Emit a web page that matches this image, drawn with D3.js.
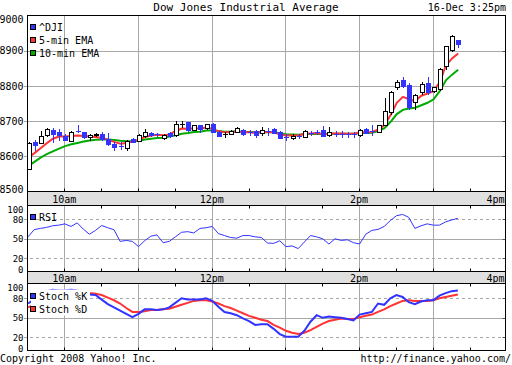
<!DOCTYPE html>
<html><head><meta charset="utf-8">
<script src="https://cdn.jsdelivr.net/npm/d3@7"></script>
<style>
body{margin:0;background:#fff}
svg{display:block}
text{font-family:"DejaVu Sans Mono",monospace;font-size:10px;fill:#000}
</style>
</head><body>
<svg id="c" width="512" height="365"></svg>
<script>
// ---------- DATA ----------
const titleText = "Dow Jones Industrial Average";
const stampText = "16-Dec 3:25pm";
const footLeft = "Copyright 2008 Yahoo! Inc.";
const footRight = "http://finance.yahoo.com/";
const legendMain = ["^DJI", "5-min EMA", "10-min EMA"];
const legendRsi = ["RSI"];
const legendStoch = ["Stoch %K", "Stoch %D"];

const opens = [8565,8640,8638,8661,8674,8668,8659,8644,8671,8668, 8656,8660,8664,8650,8635,8631,8624,8650,8644,8658, 8667,8663,8651,8667,8660,8692,8697,8676,8688,8679, 8692,8670,8662,8664,8670,8676,8670,8672,8666,8671, 8677,8670,8655,8651,8659,8655,8667,8670,8674,8660, 8665,8665,8663,8663,8660,8677,8671,8670,8689,8725, 8797,8816,8802,8755,8782,8808,8786,8791,8856,8901, 8929];
const closes = [8639,8632,8658,8677,8664,8660,8647,8670,8670,8656, 8660,8664,8648,8636,8627,8630,8644,8641,8661,8670, 8660,8662,8660,8658,8691,8693,8675,8688,8677,8691, 8670,8658,8663,8672,8679,8662,8669,8661,8675,8670, 8667,8653,8654,8659,8658,8672,8666,8669,8658,8669, 8664,8664,8662,8662,8675,8667,8670,8688,8729,8783, 8812,8799,8739,8774,8804,8783,8796,8849,8912,8941, 8920];
const highs = [8640,8647,8672,8680,8680,8678,8662,8672,8688,8670, 8662,8667,8670,8665,8640,8641,8647,8652,8663,8678, 8668,8666,8662,8670,8700,8700,8698,8690,8690,8693, 8694,8671,8670,8675,8683,8678,8676,8674,8683,8681, 8680,8672,8664,8662,8664,8676,8672,8674,8686,8683, 8672,8672,8670,8670,8677,8679,8688,8690,8765,8785, 8816,8826,8808,8778,8810,8826,8798,8851,8912,8946, 8930];
const lows = [8563,8619,8637,8659,8641,8646,8645,8643,8669,8652, 8647,8658,8645,8633,8619,8622,8617,8640,8643,8656, 8658,8658,8650,8656,8659,8683,8673,8674,8670,8677, 8668,8657,8655,8662,8668,8660,8660,8655,8661,8661, 8665,8652,8645,8649,8651,8654,8661,8664,8657,8658, 8658,8656,8654,8656,8658,8665,8661,8668,8688,8720, 8790,8797,8733,8733,8777,8777,8784,8789,8849,8899, 8911];
const ema5 = [8597,8609,8623,8637,8650,8656,8656,8658,8659,8658, 8656,8655,8652,8647,8641,8636,8638,8642,8647,8655, 8659,8661,8660,8662,8672,8679,8678,8680,8679,8682, 8678,8671,8668,8669,8671,8668,8668,8666,8669,8669, 8668,8662,8659,8659,8659,8664,8665,8666,8663,8665, 8665,8665,8664,8664,8668,8668,8669,8676,8689,8717, 8752,8769,8762,8757,8772,8778,8785,8810,8858,8878, 8892];
const ema10 = [8572,8584,8596,8606,8614,8622,8629,8634,8638,8642, 8645,8647,8648,8648,8646,8644,8643,8643,8644,8648, 8650,8652,8653,8656,8660,8664,8666,8669,8670,8673, 8673,8672,8670,8670,8671,8669,8669,8668,8668,8668, 8668,8665,8663,8662,8661,8663,8663,8664,8663,8664, 8664,8664,8664,8664,8666,8666,8667,8672,8680,8698, 8720,8732,8736,8738,8745,8752,8762,8785,8816,8832, 8846];
const rsi = [53,64,66,67.5,70,71,73,69,74.5,65, 57,63,70.5,67,64,46,47.5,46,38,47, 54,56,44,46,53,60,61,59,66,67, 69,58,55,52,51,55,55,53,52,43.5, 43,47,38,39,35,45,55,53,50,42, 50,47.5,48.5,44,42,57,63,64.5,69,78, 85.5,87.5,83,66,70,73,71,71,76,79, 81.5];
const stochK = [72,78,86,91,93,92,92,93,92,89, 86,85,78,71,66,61,56,51,56,63, 63,62,63,66,73,80,78,78,78,80, 76,67,59,57,54,49,45,39,40,40, 33,25,21,21,21,30,44,54,50,52, 51,50,48,46,55,57,59,72,70,80, 85,82,74,71,75,77,77,84,88,91, 92];
const stochD = [66,70,76,83,88,90,91,91,91,90, 88,87,85,81,77,72,65,59,59,60, 62,62,63,64,67,70,73,76,77,77, 75,72,68,65,61,57,53,50,47,45, 39,35,30,27,25,27,31,36,41,45, 47,49,48,48,51,53,55,59,63,68, 72,76,77,76,76,76,77,80,82,84, 86];

const sessionStart = [9, 30];
const sessionEnd = [16, 0];
const barMinutes = 5;
const timeLabels = [["10am", 10, 0], ["12pm", 12, 0], ["2pm", 14, 0], ["4pm", 16, 0]];
const priceTicks = [8500, 8600, 8700, 8800, 8900, 9000];
const oscTicks = [0, 20, 50, 80, 100];

// ---------- SETUP ----------
const day = (h, m) => new Date(2008, 11, 16, h, m);
const times = opens.map((_, i) => day(sessionStart[0], sessionStart[1] + barMinutes * i));
const bars = opens.map((o, i) => ({t: times[i], o, c: closes[i], h: highs[i], l: lows[i]}));

const BLUE = "#3333ff", RED = "#ff3333", GREEN = "#00aa00", GRID = "#a8a8a8", BAND = "#e0e0e0";
const L = 27.5, R = 505.5;
const svg = d3.select("#c");
svg.append("rect").attr("width", 512).attr("height", 365).attr("fill", "#fff");

const x = d3.scaleTime().domain([day(...sessionStart), day(...sessionEnd)]).range([27.5, 506.5]);
const yP = d3.scaleLinear().domain([8500, 9000]).range([191.5, 15.5]);
const yR = d3.scaleLinear().domain([0, 100]).range([271.3, 206.3]);
const yS = d3.scaleLinear().domain([0, 100]).range([350.3, 285.3]);
const cx = t => Math.round(x(t) + 1);

const hours = d3.timeHour.range(day(10, 0), day(16, 0));
const halfHours = d3.timeMinute.every(30).range(day(10, 0), day(16, 0));

function panel(top, bottom, y, ticks, dashed, fs) {
  const g = svg.append("g");
  g.selectAll(".vg").data(hours).enter().append("line")
    .attr("x1", d => Math.round(x(d)) + 0.5).attr("x2", d => Math.round(x(d)) + 0.5)
    .attr("y1", top).attr("y2", bottom).attr("stroke", GRID);
  ticks.filter(v => v !== y.domain()[0] && v !== y.domain()[1]).forEach(v => {
    const yy = Math.round(y(v)) + 0.5;
    g.append("line").attr("x1", 24).attr("x2", R).attr("y1", yy).attr("y2", yy)
      .attr("stroke", GRID).attr("stroke-dasharray", dashed && dashed(v) ? "3,3" : null);
    g.append("line").attr("x1", R - 3).attr("x2", R).attr("y1", yy).attr("y2", yy).attr("stroke", "#555");
  });
  g.selectAll(".tb").data(halfHours).enter().append("line")
    .attr("x1", d => Math.round(x(d)) + 0.5).attr("x2", d => Math.round(x(d)) + 0.5)
    .attr("y1", bottom - 3).attr("y2", bottom).attr("stroke", "#000");
  ticks.forEach(v => {
    let cy = y(v);
    cy = Math.max(top + 4.3, Math.min(bottom - 2, cy));
    g.append("text").attr("x", 23.5).attr("y", cy + fs * 0.36).attr("text-anchor", "end")
      .style("font-size", fs + "px").text(String(v));
  });
  return g;
}
function topTicks(top) {
  svg.append("g").selectAll("line").data(halfHours).enter().append("line")
    .attr("x1", d => Math.round(x(d)) + 0.5).attr("x2", d => Math.round(x(d)) + 0.5)
    .attr("y1", top).attr("y2", top + 3).attr("stroke", "#000");
}
function band(top, bottom, base) {
  svg.append("rect").attr("x", L).attr("y", top).attr("width", R - L).attr("height", bottom - top)
    .attr("fill", BAND).attr("stroke", "#000");
  timeLabels.forEach(([lab, h, m], i) => {
    const last = i === timeLabels.length - 1;
    svg.append("text").attr("x", last ? R - 1 : x(day(h, m)))
      .attr("y", base).attr("text-anchor", last ? "end" : "middle").text(lab);
  });
}
function legend(items, colors, x0, y0, step) {
  items.forEach((t, i) => {
    svg.append("rect").attr("x", x0 + 0.5).attr("y", y0 + i * step + 0.5).attr("width", 5).attr("height", 5)
      .attr("fill", colors[i]).attr("stroke", "#000");
    svg.append("text").attr("x", x0 + 9).attr("y", y0 + i * step + 6.5).text(t);
  });
}

// ---------- MAIN PANEL ----------
panel(15.5, 191.5, yP, priceTicks, null, 10);
const lineP = d3.line().x((d, i) => x(times[i]) + 0.8).y(d => yP(d));
svg.append("path").attr("d", lineP(ema10)).attr("fill", "none").attr("stroke", GREEN).attr("stroke-width", 2);
svg.append("path").attr("d", lineP(ema5)).attr("fill", "none").attr("stroke", RED).attr("stroke-width", 2);

const cg = svg.append("g");
bars.forEach(b => {
  const c = cx(b.t);
  const up = b.c > b.o;
  const col = up ? "#000" : BLUE;
  cg.append("line").attr("x1", c + 0.5).attr("x2", c + 0.5)
    .attr("y1", Math.round(yP(b.h))).attr("y2", Math.round(yP(b.l)) + 1).attr("stroke", col);
  if (Math.abs(b.c - b.o) <= 1) {
    const yy = Math.round(yP((b.o + b.c) / 2)) + 0.5;
    cg.append("line").attr("x1", c - 2).attr("x2", c + 3).attr("y1", yy).attr("y2", yy).attr("stroke", col);
  } else {
    const yt = Math.round(yP(Math.max(b.o, b.c))), yb = Math.round(yP(Math.min(b.o, b.c)));
    if (up) {
      cg.append("rect").attr("x", c - 1.5).attr("y", yt + 0.5).attr("width", 4)
        .attr("height", Math.max(1, yb - yt)).attr("fill", "#fff").attr("stroke", "#000");
    } else {
      cg.append("rect").attr("x", c - 2).attr("y", yt).attr("width", 5)
        .attr("height", Math.max(2, yb - yt + 1)).attr("fill", BLUE);
    }
  }
});
svg.append("rect").attr("x", L).attr("y", 15.5).attr("width", R - L).attr("height", 176)
  .attr("fill", "none").attr("stroke", "#000");
legend(legendMain, [BLUE, RED, GREEN], 30, 24, 13);

// ---------- BAND 1 ----------
band(191.5, 205.5, 203.3);

// ---------- RSI PANEL ----------
topTicks(205.5);
panel(205.5, 271.5, yR, oscTicks, v => v === 20 || v === 80, 9);
const lineR = d3.line().x((d, i) => x(times[i]) + 0.5).y(d => yR(d));
svg.append("path").attr("d", lineR(rsi)).attr("fill", "none").attr("stroke", BLUE).attr("stroke-width", 1);
svg.append("rect").attr("x", L).attr("y", 205.5).attr("width", R - L).attr("height", 66)
  .attr("fill", "none").attr("stroke", "#000");
legend(legendRsi, [BLUE], 30, 214, 13);

// ---------- BAND 2 ----------
band(271.5, 283.5, 281.5);

// ---------- STOCH PANEL ----------
topTicks(283.5);
panel(283.5, 350.5, yS, oscTicks, v => v === 20 || v === 80, 9);
const lineS = d3.line().x((d, i) => x(times[i]) + 0.5).y(d => yS(d));
svg.append("path").attr("d", lineS(stochD)).attr("fill", "none").attr("stroke", RED).attr("stroke-width", 2);
svg.append("path").attr("d", lineS(stochK)).attr("fill", "none").attr("stroke", BLUE).attr("stroke-width", 2);
svg.append("rect").attr("x", 31).attr("y", 289.5).attr("width", 59).attr("height", 26).attr("fill", "#fff");
svg.append("rect").attr("x", L).attr("y", 283.5).attr("width", R - L).attr("height", 67)
  .attr("fill", "none").attr("stroke", "#000");
legend(legendStoch, [BLUE, RED], 30, 293, 13);

// ---------- TEXT ----------
svg.append("text").attr("x", 246).attr("y", 11).attr("text-anchor", "middle").style("font-size", "11px").text(titleText);
svg.append("text").attr("x", 506).attr("y", 10.5).attr("text-anchor", "end").text(stampText);
svg.append("text").attr("x", 0).attr("y", 362).text(footLeft);
svg.append("text").attr("x", 511).attr("y", 362).attr("text-anchor", "end").text(footRight);
</script>
</body></html>
